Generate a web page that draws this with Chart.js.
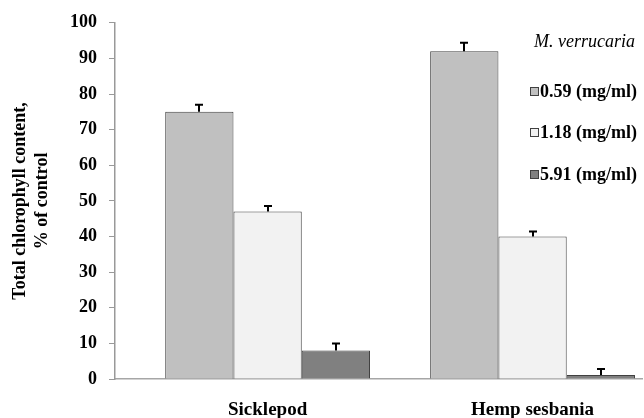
<!DOCTYPE html>
<html>
<head>
<meta charset="utf-8">
<script src="https://cdn.jsdelivr.net/npm/chart.js@4.4.1/dist/chart.umd.min.js"></script>
<style>
  html, body { margin: 0; padding: 0; background: #fff; }
  #wrap { width: 644px; height: 418px; position: relative; }
</style>
</head>
<body>
<div id="wrap"><canvas id="c" width="644" height="418"></canvas></div>
<script>
// ---- data ----
const categories = ['Sicklepod', 'Hemp sesbania'];
const seriesLabels = ['0.59 (mg/ml)', '1.18 (mg/ml)', '5.91 (mg/ml)'];
const legendTitle = 'M. verrucaria';
const conc059 = [75, 92];
const conc118 = [47, 40];
const conc591 = [8, 1.1];
const err059 = [2.0, 2.4];
const err118 = [1.6, 1.4];
const err591 = [2.0, 1.7];
const yTickMin = 0, yTickMax = 100, yTickStep = 10;
const yTitle = ['Total chlorophyll content,', '% of control'];

// ---- styles ----
const fills = ['#c0c0c0', '#f2f2f2', '#808080'];
const edge = '#404040';
const serif = '"Liberation Serif", "Times New Roman", serif';

const seriesValues = [conc059, conc118, conc591];
const seriesErrors = [err059, err118, err591];

const datasets = seriesValues.map((vals, s) => ({
  label: seriesLabels[s],
  data: vals.map((v, i) => ({ x: i, y: v })),
  errors: seriesErrors[s],
  backgroundColor: fills[s],
  borderColor: edge,
  borderWidth: 1,
  categoryPercentage: 0.773,
  barPercentage: 1.0
}));

const errorBars = {
  id: 'errorBars',
  afterDatasetsDraw(chart) {
    const ctx = chart.ctx;
    const ys = chart.scales.y;
    ctx.save();
    ctx.strokeStyle = '#000';
    ctx.lineWidth = 2;
    chart.data.datasets.forEach((ds, di) => {
      const meta = chart.getDatasetMeta(di);
      meta.data.forEach((el, i) => {
        const v = ds.data[i].y;
        const e = ds.errors[i];
        const yTop = ys.getPixelForValue(v + e);
        const x = Math.round(el.x);
        ctx.beginPath();
        ctx.moveTo(x, el.y);
        ctx.lineTo(x, yTop);
        ctx.moveTo(x - 4, yTop);
        ctx.lineTo(x + 4, yTop);
        ctx.stroke();
      });
    });
    ctx.restore();
  }
};

const floatLegend = {
  id: 'floatLegend',
  afterDraw(chart) {
    const ctx = chart.ctx;
    ctx.save();
    ctx.fillStyle = '#000';
    ctx.textBaseline = 'middle';
    ctx.textAlign = 'left';
    ctx.font = 'italic 18px ' + serif;
    ctx.fillText(legendTitle, 534, 42);
    ctx.font = 'bold 18px ' + serif;
    const rows = [92, 133, 175];
    chart.data.datasets.forEach((ds, i) => {
      const y = rows[i];
      ctx.fillStyle = ds.backgroundColor;
      ctx.fillRect(530.5, y - 4.5, 8, 8);
      ctx.strokeStyle = edge;
      ctx.lineWidth = 1;
      ctx.strokeRect(530.5, y - 4.5, 8, 8);
      ctx.fillStyle = '#000';
      ctx.fillText(ds.label, 540, y);
    });
    ctx.restore();
  }
};

Chart.defaults.color = '#000';
Chart.defaults.font.family = serif;

new Chart(document.getElementById('c'), {
  type: 'bar',
  data: { datasets },
  options: {
    responsive: false,
    animation: false,
    layout: { padding: { top: 20, right: 2, left: 0, bottom: 0 } },
    plugins: { legend: { display: false }, tooltip: { enabled: false } },
    scales: {
      x: {
        type: 'linear',
        offset: false,
        min: -0.576,
        max: 1.413,
        afterBuildTicks(axis) { axis.ticks = categories.map((_, i) => ({ value: i })); },
        afterFit(axis) { axis.height = 39; },
        grid: { display: false, drawTicks: false },
        border: { display: true, color: '#a6a6a6', width: 1.5 },
        ticks: {
          autoSkip: false, maxRotation: 0, minRotation: 0, padding: 20,
          font: { size: 19, weight: 'bold' },
          callback: (v) => categories[v] ?? ''
        }
      },
      y: {
        min: yTickMin,
        max: yTickMax,
        afterFit(axis) { axis.width = 115; },
        grid: { display: true, drawOnChartArea: false, drawTicks: true, tickLength: 6, color: '#999', lineWidth: 1 },
        border: { display: true, color: '#999', width: 1.5 },
        ticks: { stepSize: yTickStep, padding: 12, font: { size: 18, weight: 'bold' } },
        title: {
          display: true,
          text: yTitle,
          padding: { top: 10, bottom: 0 },
          font: { size: 18, weight: 'bold' }
        }
      }
    }
  },
  plugins: [errorBars, floatLegend]
});
</script>
</body>
</html>
